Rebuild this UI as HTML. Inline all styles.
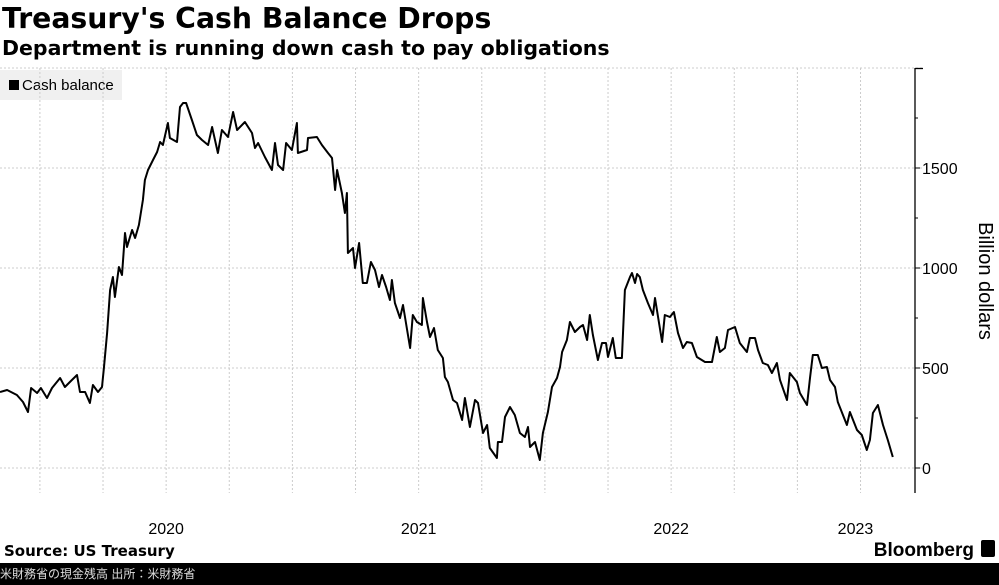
<!DOCTYPE html>
<html><head><meta charset="utf-8"><style>
body{margin:0;width:999px;height:585px;overflow:hidden;background:#fff;font-family:"Liberation Sans","Noto Sans CJK JP",sans-serif}
#title{position:absolute;left:2px;top:2px;font:bold 28.3px "DejaVu Sans",sans-serif;color:#000;white-space:nowrap}
#sub{position:absolute;left:2px;top:36px;font:bold 20.5px "DejaVu Sans",sans-serif;color:#000;white-space:nowrap}
#foot{position:absolute;left:0;top:563px;width:999px;height:22px;background:#000;color:#ddd;font-size:12px;line-height:22px}
</style></head><body>
<div id="title">Treasury's Cash Balance Drops</div>
<div id="sub">Department is running down cash to pay obligations</div>
<svg id="chart" width="999" height="563" style="position:absolute;left:0;top:0"></svg>
<div id="foot">米財務省の現金残高 出所：米財務省</div>
<script>
const dates=[2019.842,2019.870,2019.909,2019.933,2019.953,2019.965,2019.989,2020.004,2020.028,2020.048,2020.080,2020.099,2020.119,2020.147,2020.159,2020.179,2020.198,2020.210,2020.230,2020.246,2020.254,2020.266,2020.278,2020.289,2020.297,2020.313,2020.325,2020.337,2020.345,2020.365,2020.377,2020.392,2020.408,2020.416,2020.428,2020.448,2020.464,2020.476,2020.487,2020.507,2020.515,2020.543,2020.555,2020.567,2020.579,2020.602,2020.622,2020.642,2020.666,2020.682,2020.705,2020.721,2020.745,2020.765,2020.781,2020.812,2020.840,2020.852,2020.864,2020.891,2020.919,2020.931,2020.943,2020.963,2020.975,2020.998,2021.018,2021.022,2021.058,2021.062,2021.097,2021.117,2021.141,2021.157,2021.169,2021.177,2021.196,2021.208,2021.216,2021.220,2021.240,2021.248,2021.264,2021.279,2021.295,2021.311,2021.327,2021.343,2021.355,2021.371,2021.386,2021.394,2021.406,2021.426,2021.438,2021.466,2021.477,2021.493,2021.513,2021.517,2021.533,2021.545,2021.561,2021.576,2021.596,2021.604,2021.616,2021.636,2021.652,2021.672,2021.683,2021.703,2021.723,2021.735,2021.755,2021.771,2021.782,2021.810,2021.814,2021.830,2021.842,2021.862,2021.881,2021.901,2021.921,2021.933,2021.941,2021.961,2021.980,2021.992,2022.012,2022.028,2022.048,2022.060,2022.068,2022.087,2022.099,2022.119,2022.139,2022.151,2022.167,2022.178,2022.190,2022.210,2022.226,2022.242,2022.250,2022.269,2022.281,2022.305,2022.317,2022.337,2022.345,2022.357,2022.365,2022.376,2022.388,2022.408,2022.428,2022.436,2022.464,2022.475,2022.495,2022.511,2022.527,2022.547,2022.562,2022.582,2022.602,2022.634,2022.662,2022.681,2022.693,2022.713,2022.725,2022.753,2022.772,2022.800,2022.812,2022.832,2022.844,2022.863,2022.883,2022.899,2022.919,2022.931,2022.959,2022.970,2022.998,2023.010,2023.038,2023.050,2023.061,2023.081,2023.097,2023.117,2023.129,2023.149,2023.160,2023.196,2023.208,2023.236,2023.255,2023.275,2023.287,2023.299,2023.319,2023.339,2023.358,2023.378];
const values=[380,390,365,330,280,400,375,400,350,400,450,405,430,465,380,380,325,415,380,405,505,675,890,955,855,1005,965,1175,1105,1190,1150,1215,1340,1440,1490,1540,1580,1630,1615,1725,1650,1630,1805,1825,1825,1740,1665,1640,1615,1705,1575,1690,1655,1780,1690,1730,1675,1600,1625,1555,1490,1625,1515,1490,1625,1590,1725,1575,1590,1650,1655,1615,1575,1550,1390,1490,1375,1275,1375,1075,1100,1000,1125,925,925,1030,990,905,965,905,840,940,825,750,815,600,765,730,715,850,730,655,700,590,550,455,430,340,325,240,350,205,340,325,175,215,100,50,130,130,255,305,265,175,155,205,105,130,40,175,280,405,450,505,580,640,730,680,705,715,640,765,665,540,625,625,555,650,550,550,890,955,975,925,970,955,890,825,765,850,630,765,755,780,675,600,630,625,555,530,530,655,580,600,690,705,625,580,650,650,590,525,515,475,525,440,340,475,430,375,315,450,565,565,500,505,440,405,330,215,280,190,165,90,140,275,315,215,140,55];
const yTicks=[0,500,1000,1500];
const yearLabels=["2020","2021","2022","2023"];
const yearLabelPos=[2020.5,2021.5,2022.5,2023.23];

const NS="http://www.w3.org/2000/svg";
const svg=document.getElementById('chart');
const X0=2019.842,PX=252.5,AXIS=915;
function xs(t){return (t-X0)*PX;}
function ys(v){return 468-v*0.2;}
function mk(tag,attrs,parent){const e=document.createElementNS(NS,tag);for(const k in attrs)e.setAttribute(k,attrs[k]);(parent||svg).appendChild(e);return e;}

const lg=mk('g',{});


mk('rect',{x:0,y:70,width:122,height:30,fill:'#f0f0f0'},lg);
mk('rect',{x:9,y:80,width:10,height:10,fill:'#000'},lg);
const lt=mk('text',{x:22,y:90,'font-size':15,fill:'#000','font-family':'Liberation Sans, sans-serif'},lg);lt.textContent='Cash balance';

for(let q=0;q<14;q++){const t=2020+q*0.25;const x=xs(t);if(x>AXIS)break;
  const l=mk('line',{x1:x,x2:x,y1:68,y2:493,stroke:'#ccc','stroke-width':1,'stroke-dasharray':'2,2'});
  
  }
[0,500,1000,1500,2000].forEach(v=>{const l=mk('line',{x1:0,x2:AXIS+8,y1:ys(v),y2:ys(v),stroke:'#ccc','stroke-width':1,'stroke-dasharray':'2,2'});
  
  });
const ax=mk('line',{x1:AXIS,x2:AXIS,y1:68,y2:493,stroke:'#000','stroke-width':1.3});


mk('line',{x1:AXIS,x2:AXIS+8,y1:68.5,y2:68.5,stroke:'#000','stroke-width':1.3});
for(let v=0;v<=1750;v+=250){mk('line',{x1:AXIS,x2:AXIS+(v%500===0?5:3),y1:ys(v),y2:ys(v),stroke:'#000','stroke-width':1});}
yTicks.forEach(v=>{const t=mk('text',{x:AXIS+7,y:ys(v)+6,'font-size':16,fill:'#000','font-family':'Liberation Sans, sans-serif'});
  
  
  t.textContent=v;});
const yt=mk('text',{x:0,y:0,'font-size':20,fill:'#000','text-anchor':'middle','font-family':'Liberation Sans, sans-serif',transform:'translate(979,281) rotate(90)'});


yt.textContent='Billion dollars';
yearLabels.forEach((s,i)=>{const t=mk('text',{x:xs(yearLabelPos[i]),y:534,'font-size':16,fill:'#000','text-anchor':'middle','font-family':'Liberation Sans, sans-serif'});
  
  
  t.textContent=s;});
let d='';dates.forEach((t,i)=>{d+=(i?'L':'M')+xs(t).toFixed(1)+','+ys(values[i]).toFixed(1);});
const p=mk('path',{d:d,fill:'none',stroke:'#000','stroke-width':2,'stroke-linejoin':'round'});


const src=mk('text',{x:4,y:556,'font-size':15,'font-weight':'bold',fill:'#000','font-family':'DejaVu Sans, sans-serif'});


src.textContent='Source: US Treasury';
const br=mk('text',{x:974,y:556,'font-size':19,'font-weight':'bold',fill:'#000','text-anchor':'end','font-family':'Liberation Sans, sans-serif'});


br.textContent='Bloomberg';
mk('rect',{x:981,y:540,width:14,height:17,rx:2,fill:'#000'});
</script>
</body></html>
